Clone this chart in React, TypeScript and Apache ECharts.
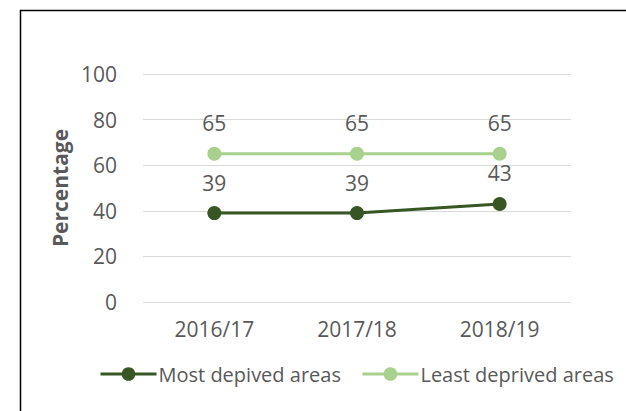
import React, { useEffect, useRef } from "react";
import * as echarts from "echarts";

const categories = ["2016/17", "2017/18", "2018/19"];
const mostDeprived = [39, 39, 43];
const leastDeprived = [65, 65, 65];
const seriesNames = ["Most depived areas", "Least deprived areas"];
const yTicks = { min: 0, max: 100, interval: 20 };

const FONT = "'Open Sans', 'Noto Sans', sans-serif";
const TEXT = "#595959";
const FS = 21;

export default function App() {
  const ref = useRef<HTMLDivElement>(null);
  useEffect(() => {
    document.body.style.margin = "0";
    const chart = echarts.init(ref.current!, null, { renderer: "svg" });
    const labelStyle = {
      show: true,
      position: "top" as const,
      distance: 13,
      color: TEXT,
      fontSize: FS,
      fontFamily: FONT,
    };
    chart.setOption({
      animation: false,
      backgroundColor: "#ffffff",
      textStyle: { fontFamily: FONT },
      grid: { left: 143, right: 55, top: 74, bottom: 109, containLabel: false },
      graphic: [
        {
          type: "rect",
          shape: { x: 20.5, y: 10.5, width: 700, height: 500 },
          style: { fill: "none", stroke: "#000000", lineWidth: 1.5 },
          silent: true,
        },
      ],
      xAxis: {
        type: "category",
        data: categories,
        boundaryGap: true,
        axisLine: { show: false },
        axisTick: { show: false },
        axisLabel: { color: TEXT, fontSize: FS, fontFamily: FONT, margin: 16 },
      },
      yAxis: {
        type: "value",
        min: yTicks.min,
        max: yTicks.max,
        interval: yTicks.interval,
        name: "Percentage",
        nameLocation: "middle",
        nameGap: 70,
        nameRotate: 90,
        nameTextStyle: { color: TEXT, fontSize: FS, fontWeight: "bold", fontFamily: FONT },
        axisLine: { show: false },
        axisTick: { show: false },
        axisLabel: { color: TEXT, fontSize: FS, fontFamily: FONT, margin: 26 },
        splitLine: { lineStyle: { color: "#d9d9d9", width: 1 } },
      },
      legend: {
        left: 99,
        top: 364,
        width: 620,
        padding: 0,
        itemWidth: 56,
        itemHeight: 17,
        itemGap: 20,
        lineStyle: { width: 3 },
        textStyle: { color: TEXT, fontSize: 20, fontFamily: FONT, padding: [0, 0, 0, -3] },
        data: seriesNames,
      },
      series: [
        {
          name: seriesNames[0],
          type: "line",
          data: mostDeprived,
          symbol: "circle",
          symbolSize: 14,
          lineStyle: { color: "#375623", width: 3 },
          itemStyle: { color: "#375623" },
          label: labelStyle,
        },
        {
          name: seriesNames[1],
          type: "line",
          data: leastDeprived,
          symbol: "circle",
          symbolSize: 14,
          lineStyle: { color: "#a9d18e", width: 3 },
          itemStyle: { color: "#a9d18e" },
          label: labelStyle,
        },
      ],
    });
    return () => chart.dispose();
  }, []);
  return (
    <div
      ref={ref}
      style={{ position: "absolute", left: 0, top: 0, width: 626, height: 411 }}
    />
  );
}
